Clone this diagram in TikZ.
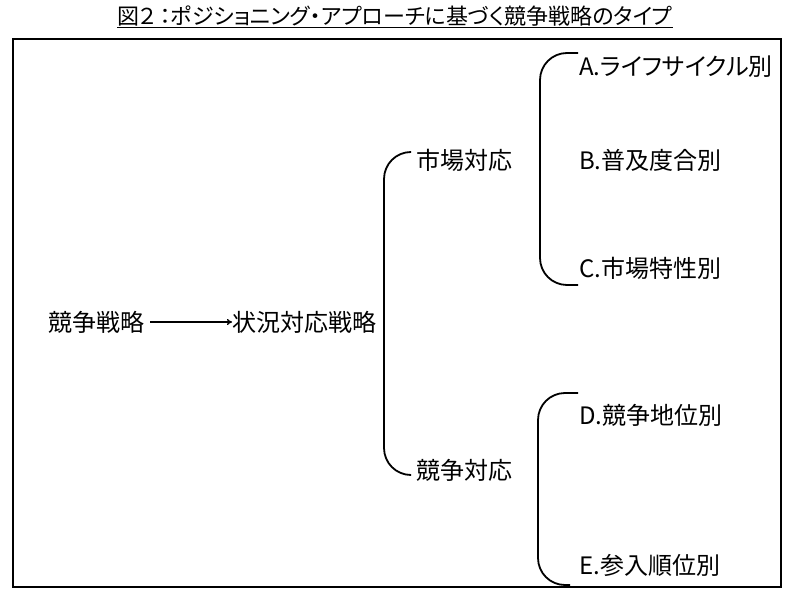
\documentclass[tikz,border=0pt]{standalone}
\usepackage{fontspec}
\setmainfont{Noto Sans CJK JP}
\newfontfamily\jpprop[RawFeature=+palt]{Noto Sans CJK JP}
\usepackage{tikz}
\usetikzlibrary{calc}
\usetikzlibrary{arrows.meta}
\tikzset{item/.style={anchor=west,
                      inner sep=0pt,
                      font=\jpprop\fontsize{24}{28}\selectfont}}
\tikzset{edge/.style={draw,line width=1.4pt}}
\tikzset{bracket/.style={draw,
                         line width=1.8pt,
                         rounded corners=27pt}}

\begin{document}
\begin{tikzpicture}
      [
      x=1pt,y=-1pt,
      frame/.style={draw,line width=2pt},
      ]
      \useasboundingbox (0,0) rectangle (800,601);

      % title and frame
      \node [inner sep=0pt,font=\jpprop\fontsize{22}{24}\selectfont] (title) at (395,17)
      {\underline{図２\,：ポジショニング・アプローチに基づく競争戦略のタイプ}};
      \draw [frame] (13,39) rectangle (781,587);

      % nodes
      \node [item] (strat) at (48,322) {競争戦略};
      \node [item] (situ) at (232,322) {状況対応戦略};
      \node [item] (market) at (416,160) {市場対応};
      \node [item] (compet) at (416,470) {競争対応};
      \foreach \n/\y/\l in
      {
      A/67/{A.ライフサイクル別},
      B/160/{B.普及度合別},
      C/268/{C.市場特性別},
      D/415/{D.競争地位別},
      E/565/{E.参入順位別}
      }
      {
      \node [item] (\n) at (579,\y) {\l};
      }

      % edges
      \draw [edge,-{To[length=5pt,width=6pt]},shorten <=6pt] (strat.east) -- (situ.west);

      \path [bracket] ($(market.west)+(-6,-8)$) -| ($(compet.west)+(-32,5)$)
      -- ($(compet.west)+(-6,5)$);

      \path [bracket] ($(A.west)+(-1,-14)$) -| ($(C.west)+(-39,17)$)
      -- ($(C.west)+(-1,17)$);

      \path [bracket] ($(D.west)+(-1,-22)$) -| ($(E.west)+(-41,20)$)
      -- ($(E.west)+(-9,20)$);

    \end{tikzpicture}
\end{document}
